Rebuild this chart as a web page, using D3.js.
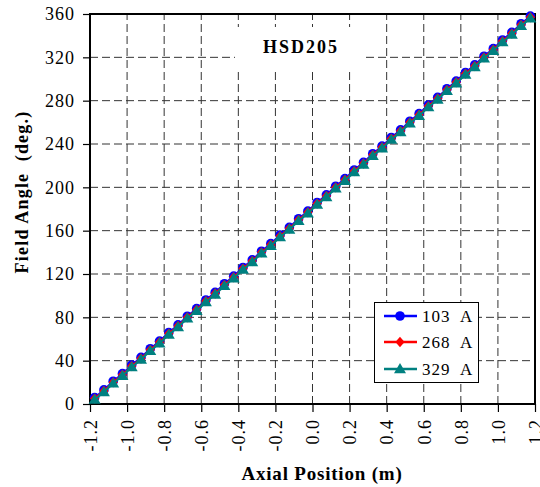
<!DOCTYPE html>
<html>
<head>
<meta charset="utf-8">
<script src="https://cdn.jsdelivr.net/npm/d3@7"></script>
<style>
  body { margin: 0; background: #fff; }
  svg { display: block; }
  svg text { font-family: "Liberation Serif", "Times New Roman", serif; }
</style>
</head>
<body>
<svg id="chart" width="540" height="487"></svg>
<script>
// axial positions (m)
let positions = [-1.175, -1.125, -1.075, -1.025, -0.975, -0.925, -0.875, -0.825, -0.775, -0.725,
  -0.675, -0.625, -0.575, -0.525, -0.475, -0.425, -0.375, -0.325, -0.275, -0.225,
  -0.175, -0.125, -0.075, -0.025, 0.025, 0.075, 0.125, 0.175, 0.225, 0.275,
  0.325, 0.375, 0.425, 0.475, 0.525, 0.575, 0.625, 0.675, 0.725, 0.775,
  0.825, 0.875, 0.925, 0.975, 1.025, 1.075, 1.125, 1.175]

// field angle (deg.) per current
let angle103 = [6, 13, 21, 28, 36, 43, 51, 58, 66, 73, 81, 88, 96, 103, 111, 118, 126, 133, 141, 148,
  156, 163, 171, 178, 186, 193, 201, 208, 216, 223, 231, 238, 246, 253, 261, 268, 276, 283, 291, 298,
  306, 313, 321, 328, 336, 343, 351, 358]
let angle268 = [5, 12, 20, 27, 35, 42, 50, 57, 65, 72, 80, 87, 95, 102, 110, 117, 125, 132, 140, 147,
  155, 162, 170, 177, 185, 192, 200, 207, 215, 222, 230, 237, 245, 252, 260, 267, 275, 282, 290, 297,
  305, 312, 320, 327, 335, 342, 350, 357]
let angle329 = [4, 11, 19, 26, 34, 41, 49, 56, 64, 71, 79, 86, 94, 101, 109, 116, 124, 131, 139, 146,
  154, 161, 169, 176, 184, 191, 199, 206, 214, 221, 229, 236, 244, 251, 259, 266, 274, 281, 289, 296,
  304, 311, 319, 326, 334, 341, 349, 356]

let seriesNames = ['103 A', '268 A', '329 A']
let xTicks = [-1.2, -1.0, -0.8, -0.6, -0.4, -0.2, 0.0, 0.2, 0.4, 0.6, 0.8, 1.0, 1.2]
let yTicks = [0, 40, 80, 120, 160, 200, 240, 280, 320, 360]

let series = [
  {name: seriesNames[0], values: angle103, color: '#0000ff', marker: 'circle'},
  {name: seriesNames[1], values: angle268, color: '#ff0000', marker: 'diamond'},
  {name: seriesNames[2], values: angle329, color: '#008080', marker: 'triangle'}
]

let margin = {top: 14, right: 5, bottom: 83, left: 90}
let width = 540
let height = 487
let serif = '"Liberation Serif", "Times New Roman", serif'

const svg = d3.select('#chart')

let x = d3.scaleLinear().domain([-1.2, 1.2]).range([margin.left, width - margin.right])
let y = d3.scaleLinear().domain([0, 360]).range([height - margin.bottom, margin.top])

// grid lines
svg.append('g')
  .selectAll('line')
  .data(xTicks.slice(1, -1))
  .join('line')
    .attr('x1', d => x(d)).attr('x2', d => x(d))
    .attr('y1', y(0)).attr('y2', y(360))
    .attr('stroke', '#333')
    .attr('stroke-dasharray', '8,4')

svg.append('g')
  .selectAll('line')
  .data(yTicks.slice(1, -1))
  .join('line')
    .attr('y1', d => y(d)).attr('y2', d => y(d))
    .attr('x1', x(-1.2)).attr('x2', x(1.2))
    .attr('stroke', '#333')
    .attr('stroke-dasharray', '8,4')

// title with white background
svg.append('rect')
  .attr('x', 235).attr('y', 27).attr('width', 131).attr('height', 42)
  .attr('fill', '#fff')

svg.append('text')
  .attr('x', 301).attr('y', 53)
  .attr('text-anchor', 'middle')
  .attr('font-family', serif)
  .attr('font-size', 18)
  .attr('font-weight', 'bold')
  .attr('letter-spacing', 2)
  .text('HSD205')

// axes
let xAxis = g => g
  .attr('transform', `translate(0,${y(0)})`)
  .call(d3.axisBottom(x).tickValues(xTicks).tickSize(8)
    .tickFormat(d => (Math.abs(d) < 1e-9 ? 0 : d).toFixed(1)))
  .attr('font-family', serif)
  .call(g => g.select('.domain').remove())
  .call(g => g.selectAll('.tick line').attr('stroke', '#000').attr('stroke-width', 1.2))
  .call(g => g.selectAll('.tick text')
    .attr('font-size', 18)
    .attr('letter-spacing', 1)
    .attr('fill', '#000')
    .attr('text-anchor', 'end')
    .attr('transform', 'rotate(-90)')
    .attr('x', -15)
    .attr('y', 0)
    .attr('dy', '0.35em'))

let yAxis = g => g
  .attr('transform', `translate(${x(-1.2)},0)`)
  .call(d3.axisLeft(y).tickValues(yTicks).tickSize(7).tickFormat(d3.format('d')))
  .attr('font-family', serif)
  .call(g => g.select('.domain').remove())
  .call(g => g.selectAll('.tick line').attr('stroke', '#000').attr('stroke-width', 1.2))
  .call(g => g.selectAll('.tick text')
    .attr('font-size', 18)
    .attr('letter-spacing', 1)
    .attr('fill', '#000')
    .attr('x', -15))

svg.append('g').call(xAxis)
svg.append('g').call(yAxis)

// plot frame
svg.append('rect')
  .attr('x', x(-1.2)).attr('y', y(360))
  .attr('width', x(1.2) - x(-1.2)).attr('height', y(0) - y(360))
  .attr('fill', 'none')
  .attr('stroke', '#000')
  .attr('stroke-width', 2)

// axis titles
svg.append('text')
  .attr('x', 322).attr('y', 480)
  .attr('text-anchor', 'middle')
  .attr('font-family', serif)
  .attr('font-size', 19)
  .attr('font-weight', 'bold')
  .attr('letter-spacing', 0.8)
  .text('Axial Position (m)')

svg.append('text')
  .attr('transform', 'translate(28,192) rotate(-90)')
  .attr('text-anchor', 'middle')
  .attr('font-family', serif)
  .attr('font-size', 18)
  .attr('font-weight', 'bold')
  .attr('letter-spacing', 1.2)
  .style('white-space', 'pre')
  .text('Field Angle  (deg.)')

// markers
let symbolPath = {
  circle: 'M-4.8,0A4.8,4.8 0 1,0 4.8,0A4.8,4.8 0 1,0 -4.8,0Z',
  diamond: 'M0,-5.2L4.6,0L0,5.2L-4.6,0Z',
  triangle: 'M0,-6L6,4.2L-6,4.2Z'
}

let line = d3.line()
  .x((d, i) => x(positions[i]))
  .y(d => y(d))

series.forEach(s => {
  let g = svg.append('g')
  g.append('path')
    .datum(s.values)
    .attr('d', line)
    .attr('fill', 'none')
    .attr('stroke', s.color)
    .attr('stroke-width', 2)
  g.selectAll('path.mk')
    .data(s.values)
    .join('path')
      .attr('class', 'mk')
      .attr('transform', (d, i) => `translate(${x(positions[i])},${y(d)})`)
      .attr('d', symbolPath[s.marker])
      .attr('fill', s.color)
})

// legend
let legend = svg.append('g')
legend.append('rect')
  .attr('x', 374.5).attr('y', 302.5).attr('width', 104).attr('height', 80)
  .attr('fill', '#fff')
  .attr('stroke', '#000')
  .attr('stroke-width', 1)

let legendY = [316, 342, 369]
series.forEach((s, i) => {
  let ly = legendY[i]
  legend.append('line')
    .attr('x1', 384).attr('x2', 417)
    .attr('y1', ly).attr('y2', ly)
    .attr('stroke', s.color)
    .attr('stroke-width', 2.5)
  legend.append('path')
    .attr('transform', `translate(400,${ly})`)
    .attr('d', symbolPath[s.marker])
    .attr('fill', s.color)
  legend.append('text')
    .attr('x', 422).attr('y', ly + 6)
    .attr('font-family', serif)
    .attr('font-size', 17)
    .attr('letter-spacing', 1)
    .style('white-space', 'pre')
    .text(s.name.replace(' ', '  '))
})
</script>
</body>
</html>
